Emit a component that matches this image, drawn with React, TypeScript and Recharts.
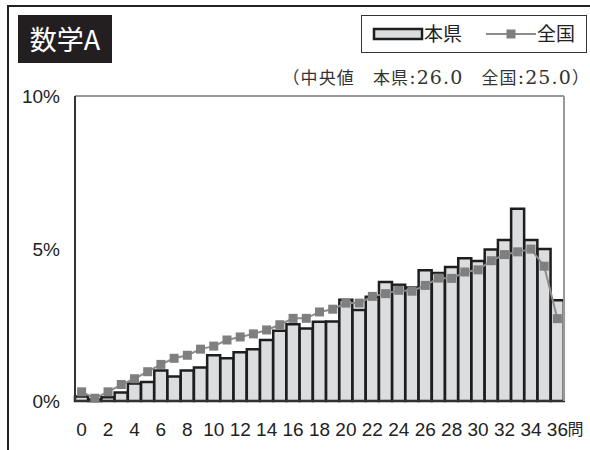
import React from 'react';
import { ComposedChart, Bar, Line, XAxis, YAxis, CartesianGrid, ReferenceLine } from 'recharts';

const questions = [0, 1, 2, 3, 4, 5, 6, 7, 8, 9, 10, 11, 12, 13, 14, 15, 16, 17, 18, 19, 20, 21, 22, 23, 24, 25, 26, 27, 28, 29, 30, 31, 32, 33, 34, 35, 36];
const prefValues = [0.15, 0.05, 0.12, 0.28, 0.57, 0.62, 1.0, 0.8, 1.0, 1.1, 1.5, 1.4, 1.6, 1.7, 2.0, 2.3, 2.52, 2.38, 2.6, 2.61, 3.32, 2.98, 3.42, 3.9, 3.81, 3.72, 4.29, 4.2, 4.39, 4.68, 4.59, 4.97, 5.28, 6.3, 5.28, 4.98, 3.3];
const natValues = [0.3, 0.09, 0.3, 0.54, 0.73, 0.96, 1.2, 1.4, 1.5, 1.7, 1.8, 2.0, 2.1, 2.2, 2.33, 2.5, 2.71, 2.71, 2.92, 3.01, 3.21, 3.21, 3.43, 3.52, 3.63, 3.6, 3.79, 4.03, 4.02, 4.23, 4.3, 4.6, 4.8, 4.89, 4.98, 4.42, 2.7];
const yTicks = [0, 5, 10];
const titleText = '数学A';
const prefLabel = '本県';
const natLabel = '全国';
const medianText = '（中央値　本県:26.0　全国:25.0）';
const unitLabel = '問';

const data = questions.map((q, i) => ({ q, pref: prefValues[i], nat: natValues[i] }));

const numFont = '"Liberation Sans Narrow", "Liberation Sans", Arial, sans-serif';
const cjkFont = '"Noto Sans CJK JP", "Noto Sans", sans-serif';
const serifNum = '"DejaVu Serif", "Liberation Serif", serif';

const SquareDot = (props: any) => {
  const { cx, cy } = props;
  if (cx == null || cy == null) return null;
  return <rect x={cx - 4.5} y={cy - 4.5} width={9} height={9} fill="#7f7f7f" />;
};

const XTick = (props: any) => {
  const { x, y, payload } = props;
  const isLast = payload.value === questions[questions.length - 1];
  return (
    <g>
      <text x={x} y={y + 33} textAnchor="middle" fontFamily={numFont} fontSize={19} fill="#222">
        {payload.value}
      </text>
      {isLast && (
        <text x={x + 10} y={y + 32} textAnchor="start" fontFamily={cjkFont} fontSize={16} fill="#222">
          {unitLabel}
        </text>
      )}
    </g>
  );
};

const YTick = (props: any) => {
  const { x, y, payload } = props;
  return (
    <text x={x} y={y + 7} textAnchor="end" fontFamily={numFont} fontSize={19} fill="#222">
      {payload.value}%
    </text>
  );
};

const medianRuns = medianText.split(/([:0-9.]+)/).filter((s) => s.length > 0);

export default function App() {
  return (
    <div style={{ position: 'absolute', left: 0, top: 0, width: 590, height: 450, background: '#fff', overflow: 'hidden' }}>
      <div style={{ position: 'absolute', left: 7, top: 5, width: 600, height: 460, borderTop: '2px solid #222', borderLeft: '2px solid #222', boxSizing: 'border-box' }} />
      <ComposedChart
        width={590}
        height={450}
        data={data}
        margin={{ top: 96, right: 0, bottom: 0, left: 0 }}
        barCategoryGap={0}
        barGap={0}
        style={{ position: 'absolute', left: 0, top: 0 }}
      >
        <CartesianGrid vertical={false} stroke="#333" strokeWidth={1.2} />
        <XAxis
          dataKey="q"
          type="category"
          interval={1}
          height={49}
          tickLine={false}
          tickSize={0}
          tick={<XTick />}
          axisLine={{ stroke: '#333', strokeWidth: 2 }}
        />
        <YAxis
          yAxisId="left"
          domain={[0, 10]}
          ticks={yTicks}
          width={75}
          tickLine={false}
          tickSize={0}
          tickMargin={15}
          tick={<YTick />}
          axisLine={{ stroke: '#333', strokeWidth: 2 }}
        />
        <YAxis
          yAxisId="right"
          orientation="right"
          domain={[0, 10]}
          width={26}
          tick={false}
          tickLine={false}
          axisLine={{ stroke: '#999', strokeWidth: 2 }}
        />
        <Bar yAxisId="left" dataKey="pref" fill="#dcdddf" stroke="#1e1e1e" strokeWidth={2.5} isAnimationActive={false} />
        <Line
          yAxisId="left"
          type="linear"
          dataKey="nat"
          stroke="#8c8c8c"
          strokeWidth={2}
          dot={<SquareDot />}
          activeDot={false}
          isAnimationActive={false}
        />
        <ReferenceLine yAxisId="left" y={10} stroke="#999" strokeWidth={2} />
      </ComposedChart>

      <div
        style={{
          position: 'absolute', left: 18, top: 15, width: 94, height: 48, background: '#231f20', color: '#fff',
          fontFamily: cjkFont, fontSize: 27, lineHeight: '48px', textAlign: 'center', whiteSpace: 'nowrap',
        }}
      >
        {titleText}
      </div>

      <div
        style={{
          position: 'absolute', left: 361, top: 15, width: 226, height: 38, border: '1.5px solid #333', boxSizing: 'border-box',
          background: '#fff', fontFamily: cjkFont, fontSize: 19, color: '#222',
        }}
      >
        <svg width={226} height={38} style={{ position: 'absolute', left: 0, top: 0 }}>
          <rect x={12} y={13} width={48} height={10} fill="#dcdddf" stroke="#1e1e1e" strokeWidth={2.5} />
          <line x1={124} y1={18} x2={174} y2={18} stroke="#8c8c8c" strokeWidth={2} />
          <rect x={144.5} y={13.5} width={9} height={9} fill="#7f7f7f" />
        </svg>
        <span style={{ position: 'absolute', left: 62, top: 5, lineHeight: '24px' }}>{prefLabel}</span>
        <span style={{ position: 'absolute', left: 175, top: 5, lineHeight: '24px' }}>{natLabel}</span>
      </div>

      <div
        style={{
          position: 'absolute', right: 0, top: 65, fontFamily: cjkFont,
          fontSize: 17, lineHeight: '24px', color: '#333', whiteSpace: 'nowrap', letterSpacing: 1.1,
        }}
      >
        {medianRuns.map((run, i) =>
          /^[:0-9.]+$/.test(run) ? (
            <span key={i} style={{ fontFamily: serifNum, fontSize: 19 }}>{run}</span>
          ) : (
            <span key={i}>{run}</span>
          )
        )}
      </div>
    </div>
  );
}
